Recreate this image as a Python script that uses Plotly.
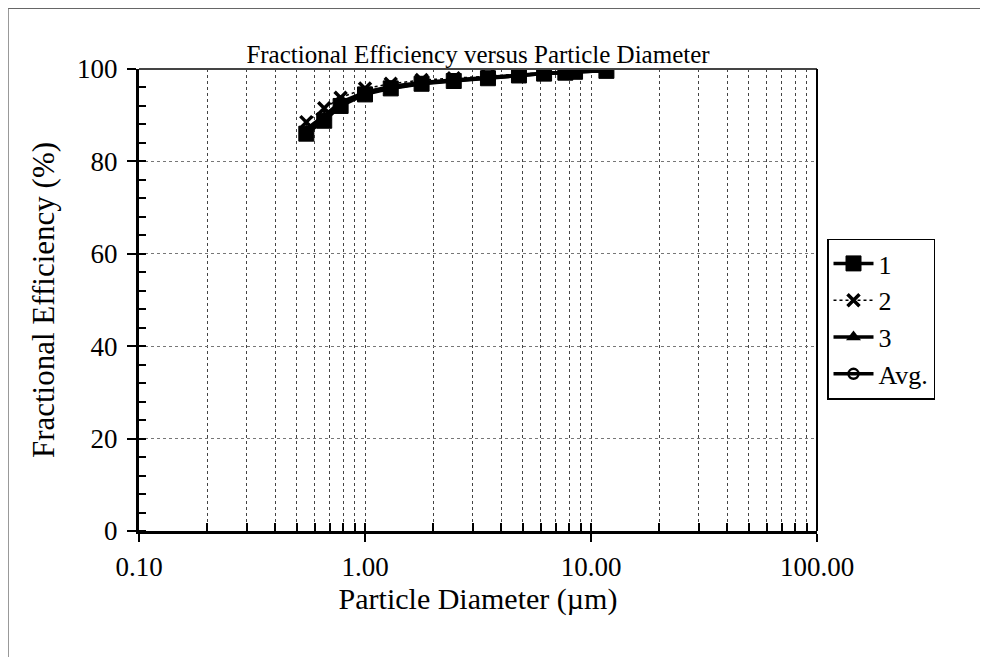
import plotly.graph_objects as go

diameter = [0.55, 0.66, 0.78, 1.0, 1.3, 1.78, 2.47, 3.5, 4.8, 6.2, 7.7, 8.5, 11.7]
run1 = [86.0, 88.8, 92.0, 94.5, 95.8, 96.8, 97.4, 98.0, 98.6, 99.0, 99.2, 99.4, 99.6]
run2 = [88.5, 91.5, 93.8, 95.8, 96.8, 97.6, 98.0, 98.5, 98.9, 99.2, 99.4, 99.5, 99.7]
run3 = [86.5, 89.5, 92.5, 94.8, 95.9, 96.9, 97.5, 98.1, 98.7, 99.0, 99.3, 99.4, 99.6]
avg = [87.0, 89.9, 92.8, 95.0, 96.2, 97.1, 97.6, 98.2, 98.7, 99.1, 99.3, 99.4, 99.6]

x_major = [0.1, 1, 10, 100]
x_major_text = ["0.10", "1.00", "10.00", "100.00"]
x_minor = [m * d for d in (0.1, 1, 10) for m in range(2, 10)] + [1, 10]
y_ticks = [0, 20, 40, 60, 80, 100]

font = "Liberation Serif, Times New Roman, serif"

W, H = 980, 649
L, R, T, B = 131, 171, 61, 126
PW, PH = W - L - R, H - T - B

fig = go.Figure()
fig.add_trace(go.Scatter(x=diameter, y=run1, name="1", mode="lines+markers",
                         line=dict(color="black", width=3.5),
                         marker=dict(symbol="square", size=15, color="black",
                                     line=dict(color="black", width=1))))
fig.add_trace(go.Scatter(x=diameter, y=run2, name="2", mode="lines+markers",
                         line=dict(color="black", width=1.5, dash="dot"),
                         marker=dict(symbol="x-thin", size=12,
                                     line=dict(color="black", width=3.5))))
fig.add_trace(go.Scatter(x=diameter, y=run3, name="3", mode="lines+markers",
                         line=dict(color="black", width=3.5),
                         marker=dict(symbol="triangle-up", size=13, color="black")))
fig.add_trace(go.Scatter(x=diameter, y=avg, name="Avg.", mode="lines+markers",
                         line=dict(color="black", width=3.5),
                         marker=dict(symbol="circle-open", size=10, color="black",
                                     line=dict(width=2.5))))

fig.update_layout(
    width=W, height=H,
    margin=dict(l=L, r=R, t=T, b=B),
    paper_bgcolor="white", plot_bgcolor="white",
    font=dict(family=font, size=26, color="black"),
    title=dict(text="Fractional Efficiency versus Particle Diameter",
               x=(470 / W), xanchor="center", y=1 - 46 / H, yanchor="middle",
               font=dict(size=25)),
    legend=dict(x=(819 - L) / PW, xanchor="left", y=(523 - 311) / PH, yanchor="middle",
                bordercolor="black", borderwidth=1.5, bgcolor="white",
                font=dict(size=26), tracegroupgap=0, itemwidth=40,
                entrywidth=150, entrywidthmode="pixels"),
    showlegend=True,
)

fig.update_xaxes(
    type="log", range=[-1, 2],
    tickmode="array", tickvals=x_major, ticktext=x_major_text,
    ticks="outside", ticklen=8, tickwidth=2, tickcolor="black",
    ticklabelstandoff=2,
    tickfont=dict(size=27),
    showline=True, linecolor="black", linewidth=2.5, mirror=False,
    showgrid=True, gridcolor="#444444", griddash="dot", gridwidth=1,
    minor=dict(tickmode="array", tickvals=x_minor, ticks="inside", ticklen=8,
               tickcolor="black", tickwidth=2,
               showgrid=True, gridcolor="#444444", griddash="dot", gridwidth=1),
    title=dict(text="Particle Diameter (µm)", standoff=2, font=dict(size=30)),
    zeroline=False,
)
fig.update_yaxes(
    range=[0, 100], tickmode="array", tickvals=y_ticks,
    ticks="outside", ticklen=9, tickwidth=2, tickcolor="black",
    ticklabelstandoff=4,
    tickfont=dict(size=27),
    showline=True, linecolor="black", linewidth=3,
    showgrid=True, gridcolor="#777777", griddash="dot", gridwidth=1,
    minor=dict(dtick=4, ticks="inside", ticklen=7, tickcolor="black", tickwidth=1.5,
               showgrid=False),
    title=dict(text="Fractional Efficiency (%)", standoff=14, font=dict(size=31)),
    zeroline=False,
)

# plot-area top and right border
fig.add_shape(type="line", xref="paper", yref="paper", x0=0, x1=1, y0=1, y1=1,
              line=dict(color="#444444", width=2))
fig.add_shape(type="line", xref="paper", yref="paper", x0=1, x1=1, y0=0, y1=1,
              line=dict(color="black", width=2))
# outer scan frame
fig.add_shape(type="line", xref="paper", yref="paper",
              x0=(0 - L) / PW, x1=(W - L) / PW,
              y0=1 + (T - 0) / PH, y1=1 + (T - 0) / PH,
              line=dict(color="#666666", width=2))
fig.add_shape(type="line", xref="paper", yref="paper",
              x0=(0 - L) / PW, x1=(0 - L) / PW,
              y0=1 + (T - 0) / PH, y1=-B / PH,
              line=dict(color="#777777", width=1.5))

fig.write_html("out.html")
